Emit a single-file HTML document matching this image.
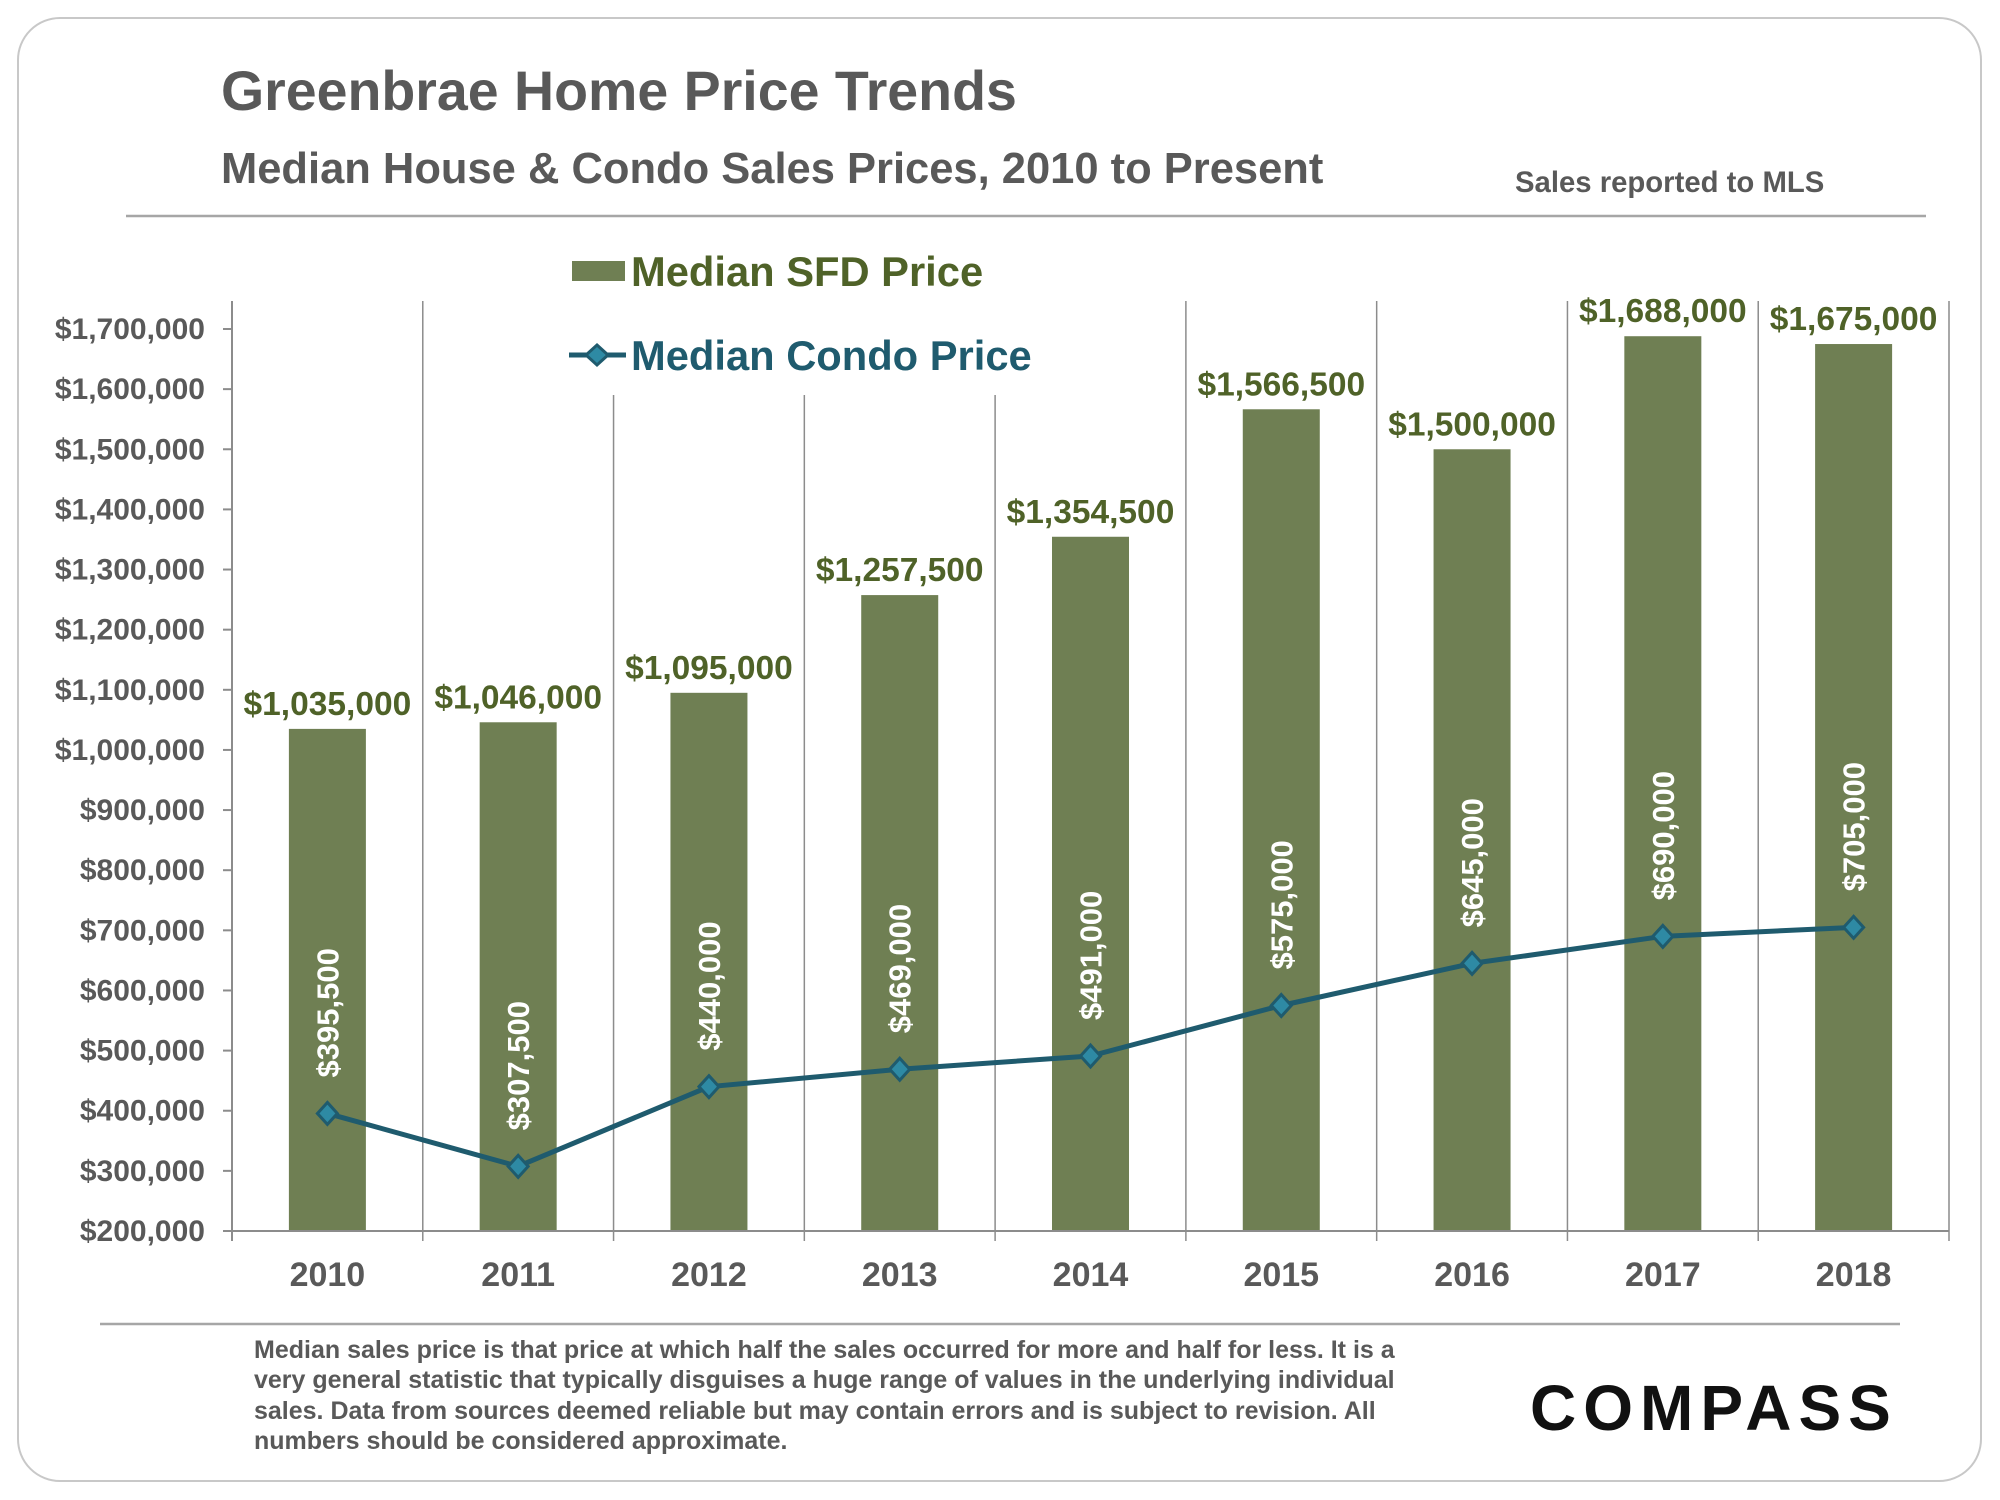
<!DOCTYPE html>
<html><head><meta charset="utf-8"><style>
html,body{margin:0;padding:0;background:#fff;width:2000px;height:1500px;overflow:hidden}
svg text{font-family:"Liberation Sans",Arial,sans-serif;font-weight:bold}
</style></head><body>
<svg id="chart" width="2000" height="1500" viewBox="0 0 2000 1500" xmlns="http://www.w3.org/2000/svg">
<rect x="18" y="18" width="1963" height="1463" rx="42" fill="#fff" stroke="#c8c8c8" stroke-width="2"/>
<text x="221" y="110" font-size="55.5" fill="#595959">Greenbrae Home Price Trends</text>
<text x="221" y="183" font-size="43.5" fill="#595959">Median House &amp; Condo Sales Prices, 2010 to Present</text>
<text x="1515" y="192" font-size="29.3" fill="#595959">Sales reported to MLS</text>
<line x1="126" y1="216" x2="1926" y2="216" stroke="#a6a6a6" stroke-width="2.5"/>
<g id="grid"></g>
<g id="bars"></g>
<g id="axes"></g>
<g id="line"></g>
<rect x="560" y="240" width="490" height="155" fill="#fff"/>
<g>
<rect x="572" y="261" width="53" height="20" fill="#6f7f53"/>
<text x="631" y="286" font-size="41.7" fill="#4f6228">Median SFD Price</text>
</g>
<g>
<line x1="569" y1="355" x2="626" y2="355" stroke="#1f5b6e" stroke-width="5"/>
<path d="M597 345 L608 355 L597 365 L586 355 Z" fill="#2e8aa4" stroke="#1f5b6e" stroke-width="3"/>
<text x="631" y="370" font-size="41.7" fill="#1f5b6e">Median Condo Price</text>
</g>
<line x1="100" y1="1324" x2="1900" y2="1324" stroke="#a6a6a6" stroke-width="2.5"/>
<g font-size="25" fill="#595959">
<text x="254" y="1358">Median sales price is that price at which half the sales occurred for more and half for less. It is a</text>
<text x="254" y="1388">very general statistic that typically disguises a huge range of values in the underlying individual</text>
<text x="254" y="1419">sales. Data from sources deemed reliable but may contain errors and is subject to revision. All</text>
<text x="254" y="1449">numbers should be considered approximate.</text>
</g>
<text x="1530" y="1430" font-size="64" fill="#111" letter-spacing="7">COMPASS</text>
</svg>
<script>
const years = ["2010","2011","2012","2013","2014","2015","2016","2017","2018"];
const sfdValues = [1035000,1046000,1095000,1257500,1354500,1566500,1500000,1688000,1675000];
const condoValues = [395500,307500,440000,469000,491000,575000,645000,690000,705000];
const yTicks = [200000,300000,400000,500000,600000,700000,800000,900000,1000000,1100000,1200000,1300000,1400000,1500000,1600000,1700000];

const NS="http://www.w3.org/2000/svg";
const X0=232, X1=1949, Y200=1231, Y1700=329;
const slot=(X1-X0)/years.length;
function xC(i){return X0+slot*(i+0.5);}
function yS(v){return Y200-(v-200000)/1500000*(Y200-Y1700);}
function fmt(v){return "$"+v.toLocaleString("en-US");}
function mk(tag,attrs,parent,txt){const e=document.createElementNS(NS,tag);for(const k in attrs)e.setAttribute(k,attrs[k]);if(txt!==undefined)e.textContent=txt;parent.appendChild(e);return e;}

const grid=document.getElementById("grid"),bars=document.getElementById("bars"),axes=document.getElementById("axes"),line=document.getElementById("line");
for(let i=1;i<=years.length;i++){
  const g=mk("line",{x1:X0+slot*i,y1:301,x2:X0+slot*i,y2:Y200+10,stroke:"#8c8c8c","stroke-width":1.5},grid);
  
  
}
const ax=mk("line",{x1:X0,y1:301,x2:X0,y2:Y200+10,stroke:"#8c8c8c","stroke-width":2},axes);


const xa=mk("line",{x1:X0,y1:Y200,x2:X1,y2:Y200,stroke:"#8c8c8c","stroke-width":2},axes);


yTicks.forEach(t=>{
  const y=yS(t);
  mk("line",{x1:X0-9,y1:y,x2:X0,y2:y,stroke:"#8c8c8c","stroke-width":2},axes);
  const l=mk("text",{x:205,y:y+10,"font-size":30,fill:"#595959","text-anchor":"end"},axes,fmt(t));
  
  
});
years.forEach((yr,i)=>{
  const l=mk("text",{x:xC(i),y:1286,"font-size":34,fill:"#595959","text-anchor":"middle"},axes,yr);
  
  
  const bw=77, top=yS(sfdValues[i]);
  const b=mk("rect",{x:xC(i)-bw/2,y:top,width:bw,height:Y200-top,fill:"#6f7f53"},bars);
  
  
  const bl=mk("text",{x:xC(i),y:top-14,"font-size":33.5,fill:"#4f6228","text-anchor":"middle"},bars,fmt(sfdValues[i]));
  
  
});
const pts=condoValues.map((v,i)=>xC(i)+","+yS(v)).join(" ");
const pl=mk("polyline",{points:pts,fill:"none",stroke:"#1f5b6e","stroke-width":5,"stroke-linejoin":"round"},line);


condoValues.forEach((v,i)=>{
  const x=xC(i),y=yS(v);
  const m=mk("path",{d:`M${x} ${y-11} L${x+10} ${y} L${x} ${y+11} L${x-10} ${y} Z`,fill:"#2e8aa4",stroke:"#1f5b6e","stroke-width":3},line);
  
  
  const t=mk("text",{x:0,y:0,"font-size":31,fill:"#fff",transform:`translate(${x+11},${y-36}) rotate(-90)`,style:"font-family:'Liberation Sans Narrow','Liberation Sans',sans-serif"},line,fmt(v));
  
  
});
</script>
</body></html>
